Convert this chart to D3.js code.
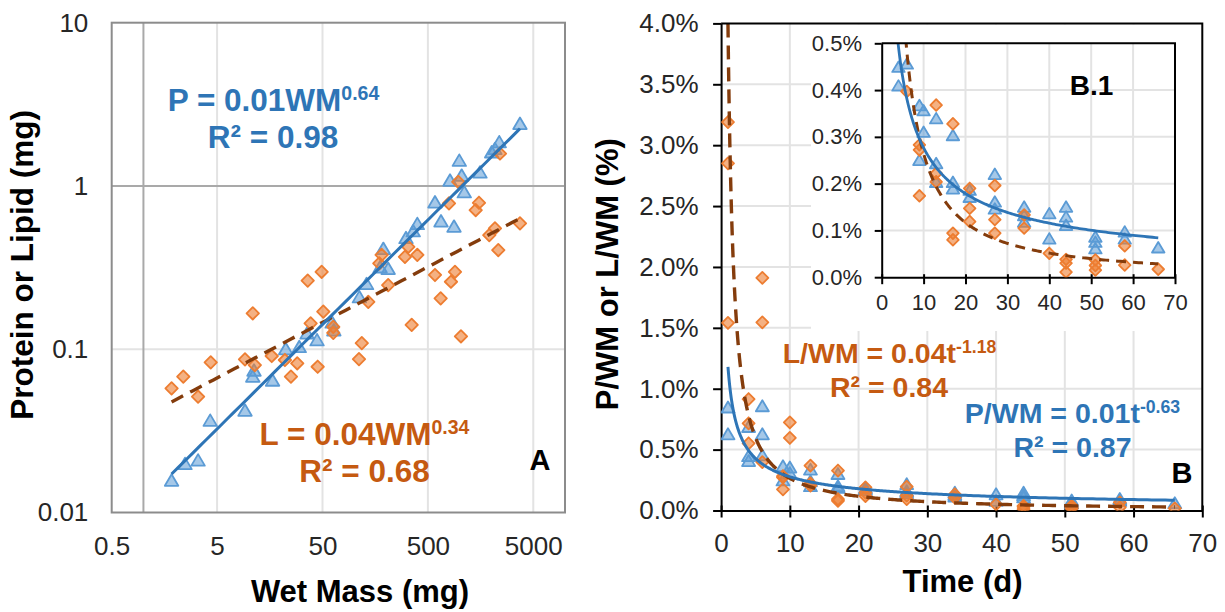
<!DOCTYPE html>
<html>
<head>
<meta charset="utf-8">
<script src="https://cdn.jsdelivr.net/npm/d3@7"></script>
<style>
  body { margin: 0; background: #fff; }
  svg { display: block; }
  text { font-family: "Liberation Sans", Arial, Helvetica, sans-serif; }
</style>
</head>
<body>
<svg id="chart" width="1225" height="612"></svg>
<script>
// ---------- Panel A: wet mass (mg) vs protein / lipid (mg) ----------
const proteinMass = [
  [1.85,0.0158],[2.48,0.0200],[3.3,0.0210],[4.3,0.0368],[9.2,0.0424],[10.9,0.0685],
  [11.2,0.0746],[16.8,0.0648],[22.4,0.101],[30.1,0.104],[35.7,0.126],[44.4,0.1145],
  [61.7,0.147],[64.1,0.1315],[112,0.210],[131,0.253],[176,0.320],[210,0.313],
  [189,0.415],[310,0.484],[363,0.532],[397,0.590],[584,0.80],[666,0.612],
  [811,1.087],[885,0.568],[993,1.44],[1046,1.166],[1107,0.922],[1560,1.22],
  [2015,1.62],[2165,1.70],[2378,1.87],[3739,2.42]
];
const lipidMass = [
  [1.85,0.0576],[2.39,0.0679],[3.3,0.0512],[4.35,0.0831],[9.2,0.0867],[10.9,0.166],
  [11.4,0.080],[16.5,0.0909],[22.0,0.0859],[25.1,0.0679],[28.8,0.082],[36.2,0.263],
  [38.6,0.144],[45.0,0.0781],[49.1,0.298],[50.9,0.170],[63.3,0.137],[63.3,0.126],
  [111,0.087],[118,0.109],[136,0.195],[182,0.378],[173,0.336],[210,0.247],
  [303,0.368],[326,0.424],[397,0.378],[351,0.141],[584,0.285],[661,0.205],
  [793,0.782],[828,0.259],[904,0.298],[971,1.06],[1030,0.120],[1421,0.712],
  [1527,0.789],[1912,0.500],[2165,0.550],[2328,0.405],[2416,1.58],[3739,0.590]
];
// power trendlines y = a * x^b
const proteinFitA = [0.0116, 0.64];
const lipidFitA = [0.0386, 0.34];
const massTicks = [0.5, 5, 50, 500, 5000];
const amountTicks = [0.01, 0.1, 1, 10];

// ---------- Panel B: time (d) vs P/WM and L/WM (%) ----------
const proteinRatio = [
  [1,0.85],[1,0.63],[4,0.69],[4,0.45],[4,0.41],[6,0.86],[6,0.63],[6,0.457],
  [9,0.368],[9,0.251],[10,0.357],[10,0.311],[13,0.34],[13,0.244],[13,0.204],
  [17,0.304],[17,0.204],[17,0.19],[21,0.187],[21,0.172],[27,0.221],[27,0.162],
  [27,0.147],[34,0.151],[34,0.133],[34,0.119],[40,0.137],[40,0.083],[44,0.151],
  [44,0.130],[44,0.112],[51,0.087],[51,0.076],[51,0.062],[58,0.098],[58,0.083],
  [66,0.064]
];
const lipidRatio = [
  [1,3.19],[1,2.85],[1,1.54],[4,0.915],[4,0.716],[4,0.552],[6,1.91],[6,1.545],
  [6,0.397],[9,0.283],[9,0.272],[9,0.174],[10,0.724],[10,0.596],[13,0.368],
  [13,0.222],[13,0.204],[17,0.328],[17,0.094],[17,0.080],[21,0.190],[21,0.147],
  [21,0.119],[27,0.196],[27,0.123],[27,0.094],[34,0.133],[34,0.105],[40,0.051],
  [44,0.038],[44,0.030],[44,0.011],[51,0.037],[51,0.025],[51,0.015],[58,0.067],
  [58,0.026],[66,0.017]
];
// power trendlines in percent: y = a * t^b
const proteinFitB = [1.18, -0.63];
const lipidFitB = [4.0, -1.18];
const timeTicks = [0, 10, 20, 30, 40, 50, 60, 70];
const pctTicks = [0, 0.5, 1, 1.5, 2, 2.5, 3, 3.5, 4];
const insetPctTicks = [0, 0.1, 0.2, 0.3, 0.4, 0.5];

// ---------- styling ----------
const BLUE_MK = "#5B9BD5", BLUE_FILL = "rgba(91,155,213,0.55)", BLUE_LINE = "#2E75B6";
const ORANGE_MK = "#ED7D31", ORANGE_FILL = "rgba(237,125,49,0.6)", BROWN_LINE = "#843C0C";
const BLUE_TXT = "#2E75B6", ORANGE_TXT = "#C55A11";
const GRID = "#e3e3e3";

const svg = d3.select("#chart");

const triPath = (w, h) => `M0,${-h/2}L${w/2},${h/2}L${-w/2},${h/2}Z`;
const diaPath = r => `M0,${-r}L${r},0L0,${r}L${-r},0Z`;

function drawTriangles(g, data, xs, ys, w, h) {
  g.selectAll(null).data(data).join("path")
    .attr("d", triPath(w, h))
    .attr("transform", d => `translate(${xs(d[0])},${ys(d[1])})`)
    .attr("fill", BLUE_FILL).attr("stroke", BLUE_MK).attr("stroke-width", 1.8)
    .attr("stroke-linejoin", "round");
}
function drawDiamonds(g, data, xs, ys, r) {
  g.selectAll(null).data(data).join("path")
    .attr("d", diaPath(r))
    .attr("transform", d => `translate(${xs(d[0])},${ys(d[1])})`)
    .attr("fill", ORANGE_FILL).attr("stroke", ORANGE_MK).attr("stroke-width", 1.8)
    .attr("stroke-linejoin", "round");
}
function equation(g, x, y, size, color, main, sup) {
  const t = g.append("text").attr("x", x).attr("y", y)
    .attr("text-anchor", "middle").attr("fill", color)
    .style("font-size", size + "px").style("font-weight", "bold");
  t.append("tspan").text(main);
  if (sup) {
    t.append("tspan").attr("dy", -0.36 * size)
      .style("font-size", (0.62 * size) + "px").text(sup);
  }
}
function styleAxis(g, color, width, size) {
  g.selectAll("text").attr("fill", "#262626").style("font-size", size + "px");
  g.selectAll("line").attr("stroke", color).attr("stroke-width", width);
  g.select(".domain").attr("stroke", color).attr("stroke-width", width);
}

// ================= Panel A =================
const A = { l: 111.7, r: 565, t: 22.7, b: 512.5 };
const ax = d3.scaleLog().domain([0.5, 10000]).range([A.l, A.r]);
const ay = d3.scaleLog().domain([0.01, 10]).range([A.b, A.t]);
const gA = svg.append("g");

// light gridlines
gA.selectAll(null).data(massTicks.slice(1)).join("line")
  .attr("x1", d => ax(d)).attr("x2", d => ax(d)).attr("y1", A.t).attr("y2", A.b)
  .attr("stroke", GRID).attr("stroke-width", 2);
gA.selectAll(null).data([0.1]).join("line")
  .attr("x1", A.l).attr("x2", A.r).attr("y1", d => ay(d)).attr("y2", d => ay(d))
  .attr("stroke", GRID).attr("stroke-width", 2);
// axes crossing at 1
gA.append("line").attr("x1", ax(1)).attr("x2", ax(1)).attr("y1", A.t).attr("y2", A.b)
  .attr("stroke", "#a9a9a9").attr("stroke-width", 2);
gA.append("line").attr("x1", A.l).attr("x2", A.r).attr("y1", ay(1)).attr("y2", ay(1))
  .attr("stroke", "#a9a9a9").attr("stroke-width", 2);
// plot frame
gA.append("rect").attr("x", A.l).attr("y", A.t).attr("width", A.r - A.l).attr("height", A.b - A.t)
  .attr("fill", "none").attr("stroke", "#8c8c8c").attr("stroke-width", 2);

// tick labels
const axB = gA.append("g").attr("transform", `translate(0,${A.b})`)
  .call(d3.axisBottom(ax).tickValues(massTicks).tickFormat(d3.format("~g")).tickSize(0).tickPadding(24));
axB.select(".domain").remove();
styleAxis(axB, "none", 0, 26);
const axL = gA.append("g").attr("transform", `translate(${A.l},0)`)
  .call(d3.axisLeft(ay).tickValues(amountTicks).tickFormat(d3.format("~g")).tickSize(0).tickPadding(23.4));
axL.select(".domain").remove();
styleAxis(axL, "none", 0, 26);

// markers
drawTriangles(gA, proteinMass, ax, ay, 13.5, 11.5);
drawDiamonds(gA, lipidMass, ax, ay, 6.2);

// trendlines
const massExt = d3.extent(proteinMass.concat(lipidMass), d => d[0]);
const massSamples = d3.range(0, 51).map(i => massExt[0] * Math.pow(massExt[1] / massExt[0], i / 50));
const lineA = d3.line().x(d => ax(d[0])).y(d => ay(d[1]));
gA.append("path")
  .attr("d", lineA(massSamples.map(x => [x, lipidFitA[0] * Math.pow(x, lipidFitA[1])])))
  .attr("fill", "none").attr("stroke", BROWN_LINE).attr("stroke-width", 3.4)
  .attr("stroke-dasharray", "13,8");
gA.append("path")
  .attr("d", lineA(massSamples.map(x => [x, proteinFitA[0] * Math.pow(x, proteinFitA[1])])))
  .attr("fill", "none").attr("stroke", BLUE_LINE).attr("stroke-width", 3);

// equations and labels
equation(gA, 273.5, 111, 31.5, BLUE_TXT, "P = 0.01WM", "0.64");
equation(gA, 273, 148.3, 31.5, BLUE_TXT, "R² = 0.98");
equation(gA, 364.5, 445, 31.5, ORANGE_TXT, "L = 0.04WM", "0.34");
equation(gA, 364.5, 482, 31.5, ORANGE_TXT, "R² = 0.68");
equation(gA, 540, 470, 29, "#000", "A");

gA.append("text").attr("x", 360).attr("y", 601.5).attr("text-anchor", "middle")
  .style("font-size", "31px").style("font-weight", "bold").text("Wet Mass (mg)");
gA.append("text").attr("transform", "translate(33.3,265) rotate(-90)").attr("text-anchor", "middle")
  .style("font-size", "31.5px").style("font-weight", "bold").text("Protein or Lipid (mg)");

// ================= Panel B =================
const B = { l: 721.1, r: 1202.3, t: 23.4, b: 510.5 };
const bx = d3.scaleLinear().domain([0, 70]).range([B.l, B.r]);
const by = d3.scaleLinear().domain([0, 4]).range([B.b, B.t]);
const gB = svg.append("g");

gB.append("clipPath").attr("id", "clipB").append("rect")
  .attr("x", B.l).attr("y", B.t - 1).attr("width", B.r - B.l).attr("height", B.b - B.t + 1);

gB.selectAll(null).data(timeTicks.slice(1, -1)).join("line")
  .attr("x1", d => bx(d)).attr("x2", d => bx(d)).attr("y1", B.t).attr("y2", B.b)
  .attr("stroke", GRID).attr("stroke-width", 2);
gB.selectAll(null).data(pctTicks.slice(1, -1)).join("line")
  .attr("x1", B.l).attr("x2", B.r).attr("y1", d => by(d)).attr("y2", d => by(d))
  .attr("stroke", GRID).attr("stroke-width", 2);

const bxAxis = gB.append("g").attr("transform", `translate(0,${B.b})`)
  .call(d3.axisBottom(bx).tickValues(timeTicks).tickSizeInner(7).tickSizeOuter(0).tickPadding(16.3));
bxAxis.selectAll(".tick line").attr("y1", -5);
styleAxis(bxAxis, "#000", 2, 26);
const byAxis = gB.append("g").attr("transform", `translate(${B.l},0)`)
  .call(d3.axisLeft(by).tickValues(pctTicks).tickFormat(d => d.toFixed(1) + "%")
    .tickSizeInner(8).tickSizeOuter(0).tickPadding(14.6));
styleAxis(byAxis, "#000", 2, 26);

const gBdata = gB.append("g").attr("clip-path", "url(#clipB)");
drawTriangles(gBdata, proteinRatio, bx, by, 13, 11);
drawDiamonds(gBdata, lipidRatio, bx, by, 6);

const timeSamples = d3.range(0, 401).map(i => 1 * Math.pow(66, i / 400));
const lineB = d3.line().x(d => bx(d[0])).y(d => by(d[1]));
gBdata.append("path")
  .attr("d", lineB(timeSamples.map(t => [t, lipidFitB[0] * Math.pow(t, lipidFitB[1])])))
  .attr("fill", "none").attr("stroke", BROWN_LINE).attr("stroke-width", 3.4)
  .attr("stroke-dasharray", "14,8");
gBdata.append("path")
  .attr("d", lineB(timeSamples.map(t => [t, proteinFitB[0] * Math.pow(t, proteinFitB[1])])))
  .attr("fill", "none").attr("stroke", BLUE_LINE).attr("stroke-width", 3);

equation(gB, 889.5, 363.3, 28.5, ORANGE_TXT, "L/WM = 0.04t", "-1.18");
equation(gB, 889, 396.7, 28.5, ORANGE_TXT, "R² = 0.84");
equation(gB, 1072.5, 423.3, 28.5, BLUE_TXT, "P/WM = 0.01t", "-0.63");
equation(gB, 1072.5, 456.7, 28.5, BLUE_TXT, "R² = 0.87");
equation(gB, 1182, 483, 29, "#000", "B");

gB.append("text").attr("x", 962.5).attr("y", 591.7).attr("text-anchor", "middle")
  .style("font-size", "31px").style("font-weight", "bold").text("Time (d)");
gB.append("text").attr("transform", "translate(618.4,274.2) rotate(-90)").attr("text-anchor", "middle")
  .style("font-size", "31px").style("font-weight", "bold").text("P/WM or L/WM (%)");

// ----- inset B.1 -----
const I = { l: 881.7, r: 1175, t: 43.3, b: 277.2 };
const ix = d3.scaleLinear().domain([0, 70]).range([I.l, I.r]);
const iy = d3.scaleLinear().domain([0, 0.5]).range([I.b, I.t]);
const gI = svg.append("g");

gI.append("rect").attr("x", 811).attr("y", B.t + 1).attr("width", B.r - 811).attr("height", 331 - B.t - 1)
  .attr("fill", "#fff");
gI.append("clipPath").attr("id", "clipI").append("rect")
  .attr("x", I.l).attr("y", I.t).attr("width", I.r - I.l).attr("height", I.b - I.t);

gI.selectAll(null).data(timeTicks.slice(1, -1)).join("line")
  .attr("x1", d => ix(d)).attr("x2", d => ix(d)).attr("y1", I.t).attr("y2", I.b)
  .attr("stroke", GRID).attr("stroke-width", 2);
gI.selectAll(null).data(insetPctTicks.slice(1, -1)).join("line")
  .attr("x1", I.l).attr("x2", I.r).attr("y1", d => iy(d)).attr("y2", d => iy(d))
  .attr("stroke", GRID).attr("stroke-width", 2);

const ixAxis = gI.append("g").attr("transform", `translate(0,${I.b})`)
  .call(d3.axisBottom(ix).tickValues(timeTicks).tickSizeInner(7).tickSizeOuter(0).tickPadding(9.8));
ixAxis.selectAll(".tick line").attr("y1", -3);
styleAxis(ixAxis, "#000", 2, 22);
const iyAxis = gI.append("g").attr("transform", `translate(${I.l},0)`)
  .call(d3.axisLeft(iy).tickValues(insetPctTicks).tickFormat(d => d.toFixed(1) + "%")
    .tickSizeInner(7).tickSizeOuter(0).tickPadding(12.7));
styleAxis(iyAxis, "#000", 2, 22);

const gIdata = gI.append("g").attr("clip-path", "url(#clipI)");
drawTriangles(gIdata, proteinRatio, ix, iy, 12.5, 10.5);
drawDiamonds(gIdata, lipidRatio, ix, iy, 5.8);
const lineI = d3.line().x(d => ix(d[0])).y(d => iy(d[1]));
gIdata.append("path")
  .attr("d", lineI(timeSamples.map(t => [t, lipidFitB[0] * Math.pow(t, lipidFitB[1])])))
  .attr("fill", "none").attr("stroke", BROWN_LINE).attr("stroke-width", 3)
  .attr("stroke-dasharray", "10,7");
gIdata.append("path")
  .attr("d", lineI(timeSamples.map(t => [t, proteinFitB[0] * Math.pow(t, proteinFitB[1])])))
  .attr("fill", "none").attr("stroke", BLUE_LINE).attr("stroke-width", 2.8);

// inset frame (top / right edges)
gI.append("path").attr("d", `M${I.l},${I.t}H${I.r}V${I.b}`)
  .attr("fill", "none").attr("stroke", "#000").attr("stroke-width", 2);
equation(gI, 1091.5, 95, 28, "#000", "B.1");

// main frame (top / right edges) on top
svg.append("path").attr("d", `M${B.l},${B.t}H${B.r}V${B.b}`)
  .attr("fill", "none").attr("stroke", "#000").attr("stroke-width", 2);
</script>
</body>
</html>
